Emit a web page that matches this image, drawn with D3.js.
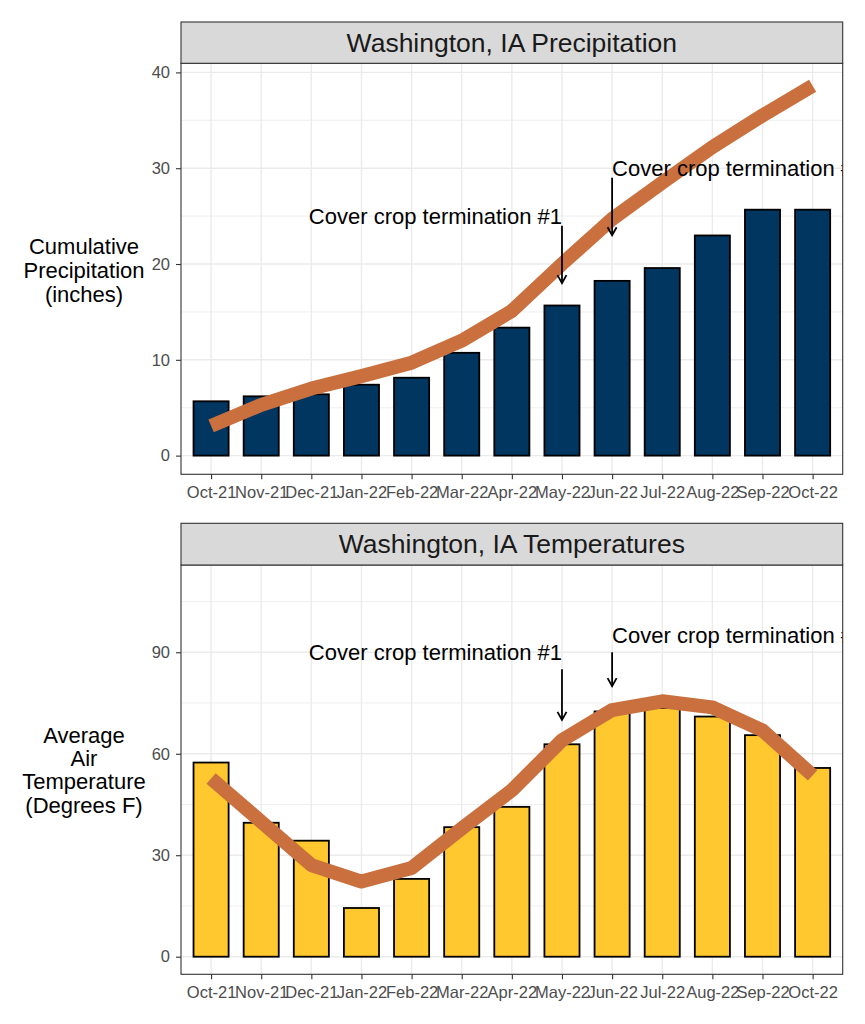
<!DOCTYPE html>
<html>
<head>
<meta charset="utf-8">
<script src="https://cdn.jsdelivr.net/npm/d3@7"></script>
<style>
  body { margin: 0; background: #fff; }
  svg { font-family: "Liberation Sans", Arial, sans-serif; }
</style>
</head>
<body>
<div id="chart"></div>
<script>
// months on the x axis
const months = ["Oct-21", "Nov-21", "Dec-21", "Jan-22", "Feb-22", "Mar-22", "Apr-22",
    "May-22", "Jun-22", "Jul-22", "Aug-22", "Sep-22", "Oct-22"];

// precipitation (inches): bars = this season, line = normal
const precipBars = [5.67, 6.19, 6.4, 7.4, 8.13, 10.73, 13.36, 15.67, 18.24, 19.58, 22.98, 25.67, 25.67];
const precipLine = [3.1, 5.3, 7.0, 8.3, 9.7, 12.0, 15.1, 20.0, 24.7, 28.5, 32.2, 35.5, 38.6];

// temperatures (F)
const tempBars = [57.4, 39.6, 34.3, 14.4, 23.0, 38.3, 44.3, 62.8, 72.5, 73.5, 71.0, 65.5, 55.8];
const tempLine = [52.7, 39.9, 27.1, 22.2, 26.2, 37.9, 49.2, 64.0, 72.9, 75.5, 73.7, 66.9, 53.6];

// tick labels
const precipTicks = [0, 10, 20, 30, 40];
const precipMinor = [5, 15, 25, 35];
const tempTicks = [0, 30, 60, 90];
const tempMinor = [15, 45, 75, 105];

// cover crop termination notes
const termMonths = ["May-22", "Jun-22"];
const termLabels = ["Cover crop termination #1", "Cover crop termination #2"];
const precipArrows = [[24, 18], [29, 23]];
const precipLabelY = [25, 30];
const tempArrows = [[85, 70], [90, 80]];
const tempLabelY = [90, 95];

const width = 865, height = 1024;
const left = 181, right = 842.7;

const svg = d3.select("#chart").append("svg")
    .attr("width", width)
    .attr("height", height);

const defs = svg.append("defs");
defs.append("marker")
    .attr("id", "arrow")
    .attr("viewBox", "-10 -6 12 12")
    .attr("refX", 0).attr("refY", 0)
    .attr("markerWidth", 12).attr("markerHeight", 12)
    .attr("markerUnits", "userSpaceOnUse")
    .attr("orient", "auto")
    .append("path")
    .attr("d", "M-8,-4.5L0,0L-8,4.5")
    .attr("fill", "none")
    .attr("stroke", "#000")
    .attr("stroke-width", 1.8);

const x = d3.scalePoint().domain(months).range([left, right]).padding(0.6);
const barW = x.step() * 0.7;

function drawPanel(cfg) {
    const g = svg.append("g");
    const y = d3.scaleLinear().domain(cfg.domain).range([cfg.bottom, cfg.top]);

    // grid
    g.selectAll(".minor").data(cfg.minor).join("line")
        .attr("x1", left).attr("x2", right)
        .attr("y1", d => y(d)).attr("y2", d => y(d))
        .attr("stroke", "#ebebeb").attr("stroke-width", 0.8);
    g.selectAll(".major").data(cfg.ticks).join("line")
        .attr("x1", left).attr("x2", right)
        .attr("y1", d => y(d)).attr("y2", d => y(d))
        .attr("stroke", "#ebebeb").attr("stroke-width", 1.4);
    g.selectAll(".vgrid").data(months).join("line")
        .attr("x1", d => x(d)).attr("x2", d => x(d))
        .attr("y1", cfg.top).attr("y2", cfg.bottom)
        .attr("stroke", "#ebebeb").attr("stroke-width", 1.4);

    // bars
    g.selectAll(".bar").data(cfg.bars).join("rect")
        .attr("x", (d, i) => x(months[i]) - barW / 2)
        .attr("width", barW)
        .attr("y", d => y(d))
        .attr("height", d => y(0) - y(d))
        .attr("fill", cfg.fill)
        .attr("stroke", "#000")
        .attr("stroke-width", 1.8);

    // line
    const line = d3.line().x((d, i) => x(months[i])).y(d => y(d));
    g.append("path")
        .attr("d", line(cfg.line))
        .attr("fill", "none")
        .attr("stroke", "#C9703E")
        .attr("stroke-width", 14)
        .attr("stroke-linejoin", "round")
        .attr("stroke-linecap", "butt");

    // notes, clipped to the panel
    const clipId = "clip" + cfg.id;
    defs.append("clipPath").attr("id", clipId)
        .append("rect")
        .attr("x", left).attr("y", cfg.top)
        .attr("width", right - left).attr("height", cfg.bottom - cfg.top);
    const notes = g.append("g").attr("clip-path", `url(#${clipId})`);
    termMonths.forEach((m, i) => {
        notes.append("line")
            .attr("x1", x(m)).attr("x2", x(m))
            .attr("y1", y(cfg.arrows[i][0])).attr("y2", y(cfg.arrows[i][1]))
            .attr("stroke", "#000").attr("stroke-width", 1.8)
            .attr("marker-end", "url(#arrow)");
        notes.append("text")
            .attr("x", x(m))
            .attr("y", y(cfg.labelY[i]))
            .attr("dy", "0.35em")
            .attr("text-anchor", i === 0 ? "end" : "start")
            .attr("font-size", 22)
            .attr("fill", "#000")
            .text(termLabels[i]);
    });

    // panel border
    g.append("rect")
        .attr("x", left).attr("y", cfg.top)
        .attr("width", right - left).attr("height", cfg.bottom - cfg.top)
        .attr("fill", "none").attr("stroke", "#333").attr("stroke-width", 1.1);

    // strip
    g.append("rect")
        .attr("x", left).attr("y", cfg.stripTop)
        .attr("width", right - left).attr("height", cfg.top - cfg.stripTop)
        .attr("fill", "#d9d9d9").attr("stroke", "#333").attr("stroke-width", 1.1);
    g.append("text")
        .attr("x", (left + right) / 2)
        .attr("y", (cfg.stripTop + cfg.top) / 2)
        .attr("dy", "0.35em")
        .attr("text-anchor", "middle")
        .attr("font-size", 26.5)
        .attr("fill", "#1a1a1a")
        .text(cfg.title);

    // axes
    const yAxis = g.append("g")
        .attr("transform", `translate(${left},0)`)
        .call(d3.axisLeft(y).tickValues(cfg.ticks).tickSize(5).tickPadding(6));
    const xAxis = g.append("g")
        .attr("transform", `translate(0,${cfg.bottom})`)
        .call(d3.axisBottom(x).tickSize(5).tickPadding(7));
    [yAxis, xAxis].forEach(a => {
        a.select(".domain").remove();
        a.selectAll(".tick line").attr("stroke", "#333").attr("stroke-width", 1.1);
        a.selectAll(".tick text")
            .attr("fill", "#4d4d4d")
            .attr("font-size", 16.5)
            .attr("font-family", "Liberation Sans, Arial, sans-serif");
    });

    // y title
    const t = g.append("text")
        .attr("text-anchor", "middle")
        .attr("font-size", 22)
        .attr("fill", "#000");
    cfg.yTitle.forEach((s, i) => {
        t.append("tspan")
            .attr("x", 84)
            .attr("y", cfg.titleY + i * cfg.titleStep)
            .attr("dy", "0.35em")
            .text(s);
    });
}

drawPanel({
    id: "p",
    title: "Washington, IA Precipitation",
    stripTop: 22, top: 63.3, bottom: 474.3,
    domain: [-1.95, 40.95],
    ticks: precipTicks, minor: precipMinor,
    bars: precipBars, line: precipLine, fill: "#003660",
    arrows: precipArrows, labelY: precipLabelY,
    yTitle: ["Cumulative", "Precipitation", "(inches)"],
    titleY: 246.5, titleStep: 24
});

drawPanel({
    id: "t",
    title: "Washington, IA Temperatures",
    stripTop: 523.3, top: 565, bottom: 974.3,
    domain: [-5.2, 115.8],
    ticks: tempTicks, minor: tempMinor,
    bars: tempBars, line: tempLine, fill: "#FFC82E",
    arrows: tempArrows, labelY: tempLabelY,
    yTitle: ["Average", "Air", "Temperature", "(Degrees F)"],
    titleY: 735, titleStep: 23.3
});
</script>
</body>
</html>
